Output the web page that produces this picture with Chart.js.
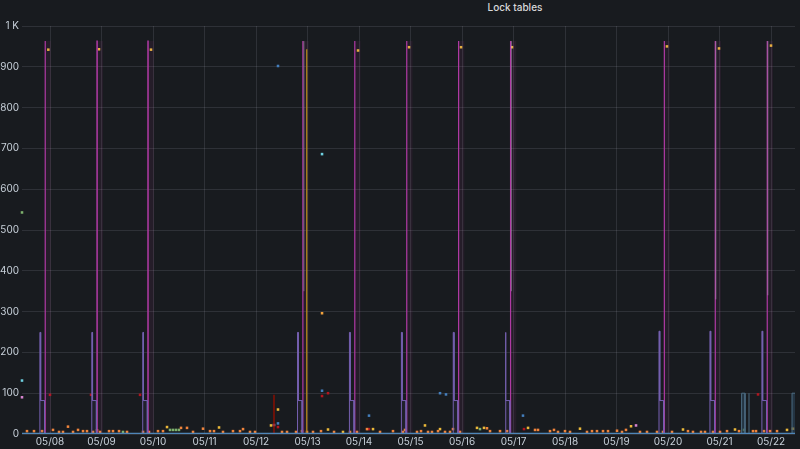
<!DOCTYPE html>
<html>
<head>
<meta charset="utf-8">
<script src="https://cdn.jsdelivr.net/npm/chart.js@4.4.1/dist/chart.umd.min.js"></script>
<style>
  html, body { margin: 0; padding: 0; background: #181b1f; }
  #wrap { position: relative; width: 800px; height: 449px; }
  #title { position: absolute; top: 1px; left: 0; width: 1030px; text-align: center;
           font: 500 10px "Inter", "Roboto", sans-serif; color: #d8d9da; }
  canvas { position: absolute; left: 0; top: 0; }
</style>
</head>
<body>
<div id="wrap">
  <div id="title">Lock tables</div>
  <canvas id="chart" width="800" height="449"></canvas>
</div>
<script>
// x values are days of May (8 = 05/08 00:00)
const dayTicks = [8, 9, 10, 11, 12, 13, 14, 15, 16, 17, 18, 19, 20, 21, 22];
const dayLabels = ["05/08", "05/09", "05/10", "05/11", "05/12", "05/13", "05/14", "05/15",
                   "05/16", "05/17", "05/18", "05/19", "05/20", "05/21", "05/22"];
const yTicks = [0, 100, 200, 300, 400, 500, 600, 700, 800, 900, 1000];

// nightly lock spikes (magenta)
const lockDays = [7.903, 8.911, 9.900, 12.906, 13.914, 14.923, 15.930, 16.939, 19.925, 20.914, 21.923];
const lockPeaks = [963, 963, 963, 963, 963, 963, 963, 963, 963, 963, 963];
// purple step just before each spike
const scanHigh = [249, 249, 249, 249, 249, 249, 249, 249, 252, 252, 252];
const scanMid = [82, 82, 82, 82, 82, 82, 82, 82, 82, 82, 82];
// yellow points near the top
const waitDays = [7.967, 8.951, 9.961, 13.981, 14.971, 15.981, 16.971, 19.980, 20.990, 22.000];
const waitValues = [942, 943, 942, 940, 948, 948, 948, 950, 945, 952];
// gold line on 05/13
const goldTimes = [12.985, 12.985];
const goldValues = [0, 943];
// pale lines hanging from the top
const paleDays = [12.93, 16.96, 20.93, 21.94];
const paleLow = [350, 350, 330, 340];
// dark red line on 05/12
const redLineTimes = [12.349, 12.349];
const redLineValues = [0, 96];

// small orange points along the bottom
const orangeTimes = [7.553, 7.689, 7.845, 8.058, 8.175, 8.252, 8.349, 8.447, 8.544, 8.641, 8.718, 8.835,
  8.913, 8.971, 9.146, 9.223, 9.340, 9.495, 9.806, 9.922, 10.097, 10.194, 10.544, 10.660, 10.777,
  10.971, 11.107, 11.184, 11.359, 11.553, 11.689, 11.748, 11.883, 11.981, 12.505, 12.602, 12.777,
  12.893, 12.990, 13.107, 13.262, 13.515, 13.825, 13.961, 14.155, 14.408, 14.660, 14.854, 14.893,
  15.126, 15.204, 15.340, 15.417, 15.534, 15.670, 15.767, 15.825, 15.961, 16.485, 16.544, 16.738,
  16.874, 17.418, 17.476, 17.709, 17.786, 17.864, 18.000, 18.097, 18.427, 18.524, 18.621, 18.738,
  18.835, 19.010, 19.107, 19.184, 19.456, 19.592, 19.786, 19.903, 20.078, 20.388, 20.485, 20.641,
  20.718, 20.874, 21.010, 21.146, 21.379, 21.650, 21.709, 21.864, 21.981, 22.117];
const orangeValues = [7, 7, 7, 10, 5, 5, 18, 5, 10, 7, 7, 5,
  9, 5, 7, 7, 7, 5, 5, 5, 7, 7, 15, 15, 5,
  13, 7, 7, 5, 7, 7, 12, 5, 5, 5, 5, 5,
  7, 5, 5, 7, 5, 5, 5, 12, 5, 7, 5, 10,
  5, 7, 5, 5, 7, 5, 5, 12, 5, 14, 7, 7,
  7, 10, 10, 7, 10, 5, 7, 5, 5, 7, 7, 7,
  7, 8, 5, 10, 5, 5, 5, 5, 5, 7, 5, 5,
  5, 5, 5, 7, 7, 7, 7, 7, 7, 7];
const yellowTimes = [10.272, 11.282, 12.291, 12.427, 13.398, 13.689, 14.272, 15.281, 15.573, 16.291,
  16.427, 17.282, 18.291, 19.282, 20.291, 21.301, 22.311, 22.427];
const yellowValues = [17, 16, 21, 60, 11, 5, 12, 21, 12, 15, 15, 15, 13, 19, 11, 11, 10, 13];
const greenTimes = [7.456, 9.417, 10.330, 10.388, 10.446, 10.504, 16.349, 21.476];
const greenValues = [543, 5, 10, 10, 10, 10, 12, 10];
const blueTimes = [12.427, 13.282, 14.194, 15.573, 15.689, 17.184, 12.427];
const blueValues = [902, 106, 45, 100, 97, 45, 26];
const lightBlueTimes = [7.456, 13.282];
const lightBlueValues = [131, 686];
const redTimes = [8.0, 8.796, 9.748, 13.282, 13.398, 12.427, 14.194, 17.204, 21.748];
const redValues = [96, 96, 96, 93, 100, 17, 12, 12, 97];
const pinkTimes = [7.456, 12.349, 19.379];
const pinkValues = [90, 22, 21];
const amberTimes = [13.282];
const amberValues = [296];
// steel bars at the right
const steelTimes = [21.429, 21.429, 21.495, 21.495, null, 21.573, 21.573, null, 22.408, 22.408, 22.466];
const steelValues = [0, 100, 100, 0, null, 0, 100, null, 0, 100, 100];
// baseline
const baseTimes = [7.456, 22.466];
const baseValues = [1, 1];

function pts(xs, ys) {
  return xs.map((x, i) => (x === null ? { x: xs[i - 1] + 0.001, y: null } : { x: x, y: ys[i] }));
}

function spikeShape(days, peaks, w) {
  const out = [];
  days.forEach((d, i) => {
    out.push({ x: d, y: 0 }, { x: d, y: peaks[i] }, { x: d + w, y: peaks[i] }, { x: d + w, y: 0 });
    out.push({ x: d + w + 0.001, y: null });
  });
  return out;
}

function stepShape(days, high, mid) {
  const out = [];
  days.forEach((d, i) => {
    out.push({ x: d - 0.1, y: 0 }, { x: d - 0.1, y: high[i] }, { x: d - 0.085, y: high[i] },
             { x: d - 0.085, y: mid[i] }, { x: d - 0.01, y: mid[i] }, { x: d - 0.01, y: 0 });
    out.push({ x: d, y: null });
  });
  return out;
}

function hangShape(days, low, top) {
  const out = [];
  days.forEach((d, i) => {
    out.push({ x: d, y: low[i] }, { x: d, y: top }, { x: d + 0.001, y: null });
  });
  return out;
}

function dots(label, xs, ys, color) {
  return { label: label, data: pts(xs, ys), showLine: false, pointStyle: "rect", clip: false,
           pointRadius: 1.8, pointBackgroundColor: color, pointBorderWidth: 0 };
}

const ctx = document.getElementById("chart").getContext("2d");
new Chart(ctx, {
  type: "scatter",
  data: {
    datasets: [
      { label: "base", data: pts(baseTimes, baseValues), showLine: true, pointRadius: 0,
        borderColor: "#4f86b8", borderWidth: 1.5 },
      { label: "shade", data: spikeShape(lockDays, lockPeaks, 0.12), showLine: true, pointRadius: 0,
        borderColor: "rgba(0,0,0,0)", borderWidth: 0, fill: "origin", backgroundColor: "rgba(186,67,169,0.08)" },
      { label: "scan", data: stepShape(lockDays, scanHigh, scanMid), showLine: true, pointRadius: 0,
        borderColor: "#7560b0", borderWidth: 1, fill: "origin", backgroundColor: "rgba(112,93,160,0.1)" },
      { label: "pale", data: hangShape(paleDays, paleLow, 963), showLine: true, pointRadius: 0,
        borderColor: "rgba(210,210,225,0.4)", borderWidth: 1 },
      { label: "lock", data: spikeShape(lockDays, lockPeaks, 0.006), showLine: true, pointRadius: 0,
        borderColor: "#b03aa5", borderWidth: 1.2 },
      { label: "gold", data: pts(goldTimes, goldValues), showLine: true, pointRadius: 0,
        borderColor: "#b8930a", borderWidth: 1.2 },
      { label: "redline", data: pts(redLineTimes, redLineValues), showLine: true, pointRadius: 0,
        borderColor: "#890f02", borderWidth: 1.5 },
      { label: "steel", data: pts(steelTimes, steelValues), showLine: true, pointRadius: 0,
        borderColor: "#4a6a80", borderWidth: 1, fill: "origin", backgroundColor: "rgba(45,70,90,0.6)" },
      dots("wait", waitDays, waitValues, "#eab839"),
      dots("orange", orangeTimes, orangeValues, "#ef843c"),
      dots("yellow", yellowTimes, yellowValues, "#eab839"),
      dots("green", greenTimes, greenValues, "#7eb26d"),
      dots("blue", blueTimes, blueValues, "#447ebc"),
      dots("lightblue", lightBlueTimes, lightBlueValues, "#6ed0e0"),
      dots("red", redTimes, redValues, "#b0161f"),
      dots("pink", pinkTimes, pinkValues, "#d683ce"),
      dots("amber", amberTimes, amberValues, "#f2a23c")
    ]
  },
  options: {
    responsive: false,
    animation: false,
    events: [],
    layout: { padding: { top: 26, right: 5, left: 0, bottom: 0 } },
    plugins: { legend: { display: false }, tooltip: { enabled: false } },
    scales: {
      x: {
        type: "linear",
        min: 7.456,
        max: 22.466,
        afterBuildTicks: (s) => { s.ticks = dayTicks.map((v) => ({ value: v })); },
        afterFit: (s) => { s.height = 15; },
        border: { display: false },
        grid: { color: "rgba(204,204,220,0.13)", drawTicks: false },
        ticks: {
          padding: 2,
          color: "#c7d0d9",
          font: { family: "Inter, Roboto, sans-serif", size: 10 },
          maxRotation: 0,
          autoSkip: false,
          callback: (v) => dayLabels[dayTicks.indexOf(v)]
        }
      },
      y: {
        min: 0,
        max: 1000,
        afterBuildTicks: (s) => { s.ticks = yTicks.map((v) => ({ value: v })); },
        afterFit: (s) => { s.width = 22; },
        border: { display: false },
        grid: { color: "rgba(204,204,220,0.13)", drawTicks: false },
        ticks: {
          padding: 3,
          color: "#c7d0d9",
          font: { family: "Inter, Roboto, sans-serif", size: 10 },
          callback: (v) => (v === 1000 ? "1 K" : v)
        }
      }
    }
  }
});
</script>
</body>
</html>
